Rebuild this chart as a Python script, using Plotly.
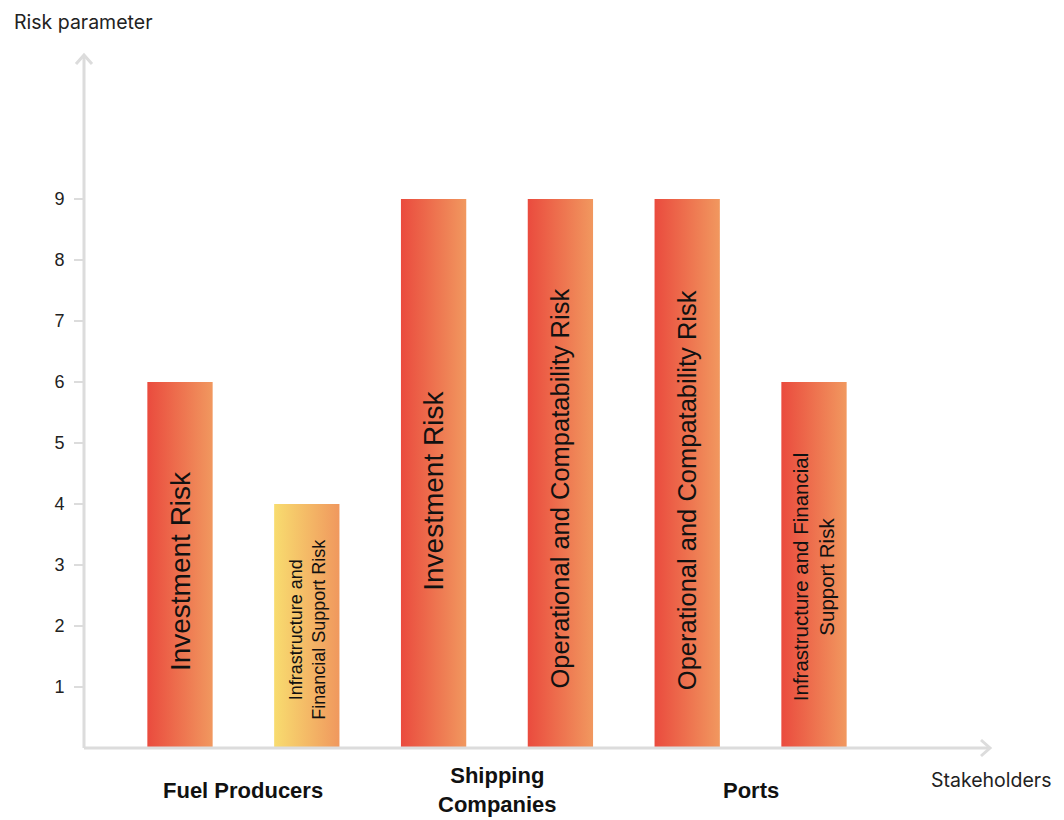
import plotly.graph_objects as go

# ---- data ----
stakeholders = ["Fuel Producers", "Shipping<br>Companies", "Ports"]
bar_labels = [
    "Investment Risk",
    "Infrastructure and<br>Financial Support Risk",
    "Investment Risk",
    "Operational and Compatability Risk",
    "Operational and Compatability Risk",
    "Infrastructure and Financial<br>Support Risk",
]
bar_group = [0, 0, 1, 1, 2, 2]
risk_values = [6, 4, 9, 9, 9, 6]
y_ticks = [1, 2, 3, 4, 5, 6, 7, 8, 9]

# ---- style ----
RED_GRAD = [[0, "#EA4B3E"], [1, "#F1985F"]]
YEL_GRAD = [[0, "#F8DC6F"], [1, "#F0985E"]]
bar_grads = [RED_GRAD, YEL_GRAD, RED_GRAD, RED_GRAD, RED_GRAD, RED_GRAD]
label_fonts = [28, 18, 28, 25.5, 25.5, 20.5]
label_ypos = [2.9, 1.95, 4.21, 4.26, 4.23, 2.8]
BAR_W = 0.515
AXIS_COL = "#DCDCDC"

L, R, T, B = 84, 74, 55, 72
W, H = 1064, 820
PW, PH = W - L - R, H - T - B


def px(x):
    return (x - L) / PW


def py(y):
    return (H - B - y) / PH


fig = go.Figure()

for i, v in enumerate(risk_values):
    x0, x1 = i - BAR_W / 2, i + BAR_W / 2
    fig.add_trace(go.Scatter(
        x=[x0, x1, x1, x0, x0], y=[0, 0, v, v, 0],
        mode="lines", fill="toself", line=dict(width=0),
        fillgradient=dict(type="horizontal", colorscale=bar_grads[i]),
        hoverinfo="skip", showlegend=False,
    ))
    fig.add_annotation(
        x=i, y=label_ypos[i], xref="x", yref="y", text=bar_labels[i],
        textangle=-90, showarrow=False, align="center",
        font=dict(family="Liberation Sans, Arial", size=label_fonts[i], color="#111111"),
    )

for g, name in enumerate(stakeholders):
    xs = [i for i, gg in enumerate(bar_group) if gg == g]
    fig.add_annotation(
        x=sum(xs) / len(xs), y=py(790), xref="x", yref="paper", text="<b>" + name + "</b>",
        showarrow=False, align="center", yanchor="middle",
        font=dict(family="Liberation Sans, Arial", size=22, color="#111111"),
    )

fig.add_annotation(x=px(12), y=py(22), xref="paper", yref="paper", text="Risk parameter",
                   showarrow=False, xanchor="left", yanchor="middle",
                   font=dict(family="Inter", size=19.5, color="#222222"))
fig.add_annotation(x=px(1053), y=py(780), xref="paper", yref="paper", text="Stakeholders",
                   showarrow=False, xanchor="right", yanchor="middle",
                   font=dict(family="Inter", size=19.5, color="#222222"))

# axes with arrows
line = dict(color=AXIS_COL, width=3)
shapes = [
    dict(type="line", xref="paper", yref="paper", x0=px(84), y0=py(748), x1=px(990), y1=py(748), line=line),
    dict(type="line", xref="paper", yref="paper", x0=px(84), y0=py(748), x1=px(84), y1=py(55), line=line),
    dict(type="path", xref="paper", yref="paper",
         path=f"M {px(981)},{py(740)} L {px(990)},{py(748)} L {px(981)},{py(756)}", line=line),
    dict(type="path", xref="paper", yref="paper",
         path=f"M {px(76)},{py(64)} L {px(84)},{py(55)} L {px(92)},{py(64)}", line=line),
]
fig.update_layout(shapes=shapes)

fig.update_xaxes(range=[-(180 - L) / 126.8, (L + PW - 180) / 126.8], showgrid=False,
                 zeroline=False, showticklabels=False, showline=False, fixedrange=True)
fig.update_yaxes(range=[0, PH / 61.0], showgrid=False, zeroline=False, showline=False,
                 tickvals=y_ticks, ticks="outside", ticklen=9, tickwidth=2, tickcolor=AXIS_COL,
                 ticklabelstandoff=6,
                 tickfont=dict(family="Liberation Sans, Arial", size=18, color="#222222"))

fig.update_layout(
    width=W, height=H, margin=dict(l=L, r=R, t=T, b=B),
    plot_bgcolor="white", paper_bgcolor="white",
)

fig.write_html("out.html")
